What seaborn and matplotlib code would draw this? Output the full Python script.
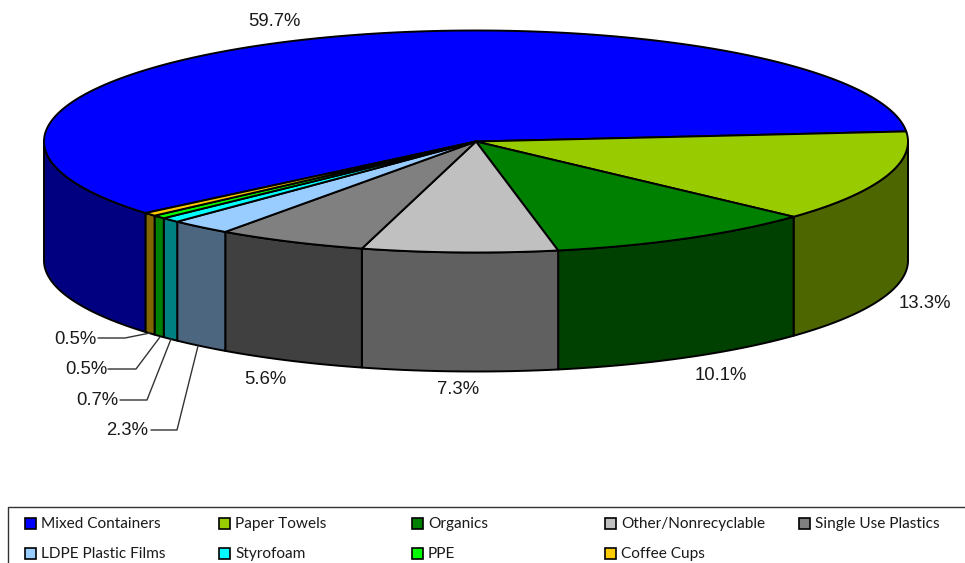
import numpy as np
import matplotlib
matplotlib.use("Agg")
import matplotlib.pyplot as plt
from matplotlib.patches import Polygon, Rectangle
import seaborn as sns

categories = ["Mixed Containers", "Paper Towels", "Organics", "Other/Nonrecyclable",
              "Single Use Plastics", "LDPE Plastic Films", "Styrofoam", "PPE", "Coffee Cups"]
shares = [59.7, 13.3, 10.1, 7.3, 5.6, 2.3, 0.7, 0.5, 0.5]
top_colors = ["#0000FF", "#99CC00", "#008000", "#C0C0C0", "#808080",
              "#99CCFF", "#00FFFF", "#00FF00", "#FFCC00"]
side_colors = ["#000080", "#4D6600", "#004000", "#606060", "#404040",
               "#4D6680", "#008080", "#008000", "#806600"]

sns.set_theme(style="white")
top_palette = sns.color_palette(top_colors)
side_palette = sns.color_palette(side_colors)

# Pie geometry in pixel units on a full-figure axes
CX, CY, RX, RY, DEPTH = 476.0, 141.5, 432.0, 111.0, 119.0
FIRST_EDGE_DEG = -5.2
EDGE = "#000000"

fig = plt.figure(figsize=(9.65, 5.63), dpi=100)
ax = fig.add_axes([0, 0, 1, 1])
ax.set_xlim(0, 965)
ax.set_ylim(563, 0)
ax.axis("off")


def rim(t0, t1, n=240):
    t = np.radians(np.linspace(t0, t1, n))
    return np.column_stack([CX + RX * np.cos(t), CY + RY * np.sin(t)])


# Slices run clockwise; the blue slice ends a little above the east point
ends = FIRST_EDGE_DEG + np.cumsum(np.array(shares[1:]) * 3.6)
bounds = [(ends[-1], FIRST_EDGE_DEG + 360.0)]
prev = FIRST_EDGE_DEG
for e in ends:
    bounds.append((prev, e))
    prev = e

# Front wall: only the part of each slice facing the viewer
for (t0, t1), col in zip(bounds, side_palette):
    a, b = max(t0, 0.0), min(t1, 180.0)
    if b <= a:
        continue
    upper = rim(a, b)
    lower = upper[::-1] + np.array([0.0, DEPTH])
    ax.add_patch(Polygon(np.vstack([upper, lower]), closed=True, facecolor=col,
                         edgecolor=EDGE, lw=1.4, joinstyle="round", zorder=2))

# Top face
for (t0, t1), col in zip(bounds, top_palette):
    pts = np.vstack([[CX, CY], rim(t0, t1)])
    ax.add_patch(Polygon(pts, closed=True, facecolor=col, edgecolor=EDGE,
                         lw=1.4, joinstyle="round", zorder=3))

# Percentage labels; the two smallest and Styrofoam carry leader lines
label_font = dict(family="Liberation Sans", fontsize=13.3, color="#1a1a1a",
                  ha="center", va="center", zorder=5)
label_xy = [(274, 22), (925, 303.5), (721, 375.5), (458, 390), (265, 379),
            (127, 430.5), (97, 400.5), (86, 369.5), (75, 339)]
for v, (x, y) in zip(shares, label_xy):
    ax.text(x, y, f"{v}%", **label_font)

# Leader lines for the narrow slices
leaders = [[(151, 430), (177, 430), (198, 346)],
           [(120, 400), (147, 400), (171, 339)],
           [(108, 369), (136, 369), (160, 337)],
           [(98, 338), (125, 338), (150, 333)]]
for path in leaders:
    xs, ys = zip(*path)
    ax.plot(xs, ys, color="#333333", lw=1.0, zorder=4)

# Legend box, open past the figure's right and bottom edges
ax.plot([965, 7.5, 7.5], [507, 507, 563], color="#333333", lw=1.0, zorder=4)
col_x = [25, 219, 412, 605, 799]
row_y = [523, 553]
for i, (name, col) in enumerate(zip(categories, top_palette)):
    x = col_x[i % 5]
    y = row_y[i // 5]
    ax.add_patch(Rectangle((x, y - 5.5), 11, 11, facecolor=col, edgecolor="#000000",
                           lw=1.2, zorder=4))
    ax.text(x + 16, y + 0.8, name, family="Lato", fontsize=11.1, color="#1a1a1a",
            ha="left", va="center", zorder=5)

fig.savefig("out.png", dpi=100, facecolor="white")
